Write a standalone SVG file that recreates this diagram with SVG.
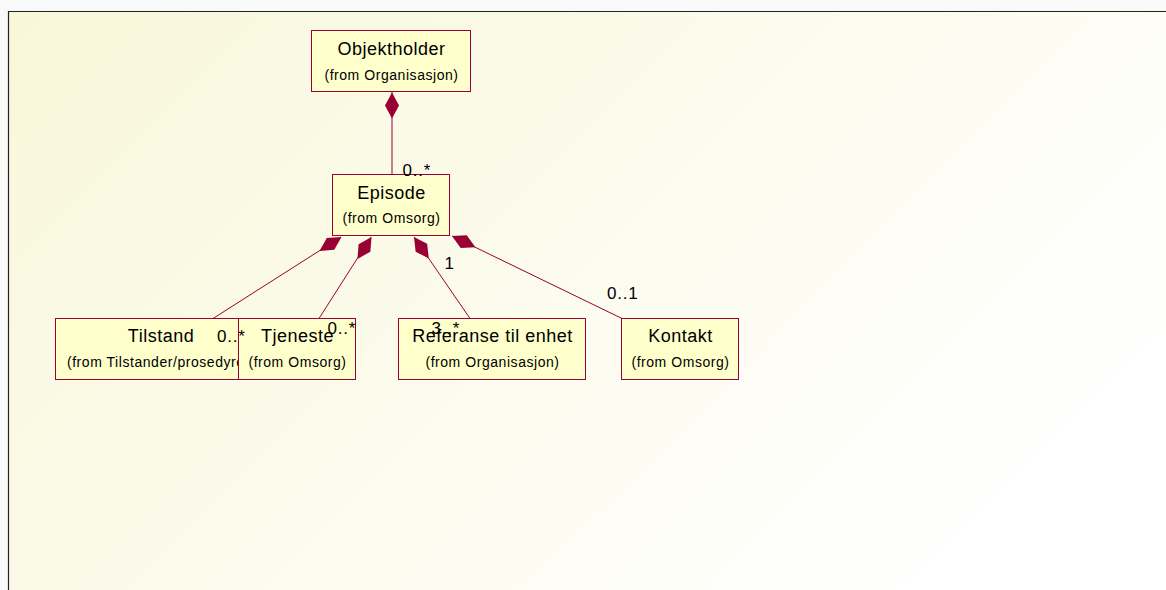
<svg xmlns="http://www.w3.org/2000/svg" xmlns:xlink="http://www.w3.org/1999/xlink" width="1166" height="590" viewBox="0 0 1166 590">
  <style>
    .box { fill: #ffffcc; stroke: #990033; stroke-width: 1; }
    .name { font-family: "Liberation Sans", Arial, sans-serif; font-size: 18px; letter-spacing: 0.5px; fill: #000; text-anchor: middle; }
    .from { font-family: "Liberation Sans", Arial, sans-serif; font-size: 14px; letter-spacing: 0.55px; fill: #000; text-anchor: middle; }
    .link { stroke: #990033; stroke-width: 1; fill: none; }
    .mult { font-family: "Liberation Sans", Arial, sans-serif; font-size: 17px; letter-spacing: 0.8px; fill: #000; }
  </style>
  <defs>
    <linearGradient id="bg" gradientUnits="userSpaceOnUse" x1="0" y1="0" x2="760" y2="760">
      <stop offset="0" stop-color="#f8f7d9"/>
      <stop offset="1" stop-color="#ffffff"/>
    </linearGradient>
    <!-- composition diamond, tip at origin, pointing along +x -->
    <path id="dia" d="M0,0 L13,-7 L26,0 L13,7 Z" fill="#990033"/>
  </defs>

  <!-- page and frame -->
  <rect x="0" y="0" width="1166" height="590" fill="#f9f9f9"/>
  <rect x="8.5" y="11.5" width="1158" height="579" fill="url(#bg)"/>
  <path d="M8.5,590 L8.5,11.5 L1166,11.5" stroke="#222" stroke-width="1.2" fill="none"/>

  <!-- connectors -->
  <g id="connectors">
    <line class="link" x1="392" y1="92" x2="392" y2="174.5"/>
    <line class="link" x1="341" y1="237" x2="213" y2="318.5"/>
    <line class="link" x1="371" y1="237" x2="319" y2="318.5"/>
    <line class="link" x1="414" y1="237" x2="470" y2="318.5"/>
    <line class="link" x1="452" y1="236" x2="622" y2="318.5"/>
    <use xlink:href="#dia" transform="translate(392,92.5) rotate(90)"/>
    <use xlink:href="#dia" transform="translate(341.5,237) rotate(147.7)"/>
    <use xlink:href="#dia" transform="translate(371.5,237) rotate(122.7)"/>
    <use xlink:href="#dia" transform="translate(414,237) rotate(55.3)"/>
    <use xlink:href="#dia" transform="translate(452,236) rotate(25.75)"/>
  </g>

  <!-- classes -->
  <g id="objektholder">
    <rect class="box" x="311.5" y="30.5" width="159" height="61"/>
    <text class="name" x="391.5" y="55">Objektholder</text>
    <text class="from" x="391.5" y="80">(from Organisasjon)</text>
  </g>
  <g id="episode">
    <rect class="box" x="332.5" y="174.5" width="117" height="61"/>
    <text class="name" x="391.5" y="198.5">Episode</text>
    <text class="from" x="391.5" y="222.5">(from Omsorg)</text>
  </g>
  <g id="tilstand">
    <rect class="box" x="55.5" y="318.5" width="210" height="61"/>
    <text class="name" x="161" y="342">Tilstand</text>
    <text class="from" x="161" y="367">(from Tilstander/prosedyrer)</text>
  </g>
  <g id="tjeneste">
    <rect class="box" x="238.5" y="318.5" width="117" height="61"/>
    <text class="name" x="297.5" y="342">Tjeneste</text>
    <text class="from" x="297.5" y="367">(from Omsorg)</text>
  </g>
  <g id="referanse">
    <rect class="box" x="398.5" y="318.5" width="187" height="61"/>
    <text class="name" x="492.5" y="342">Referanse til enhet</text>
    <text class="from" x="492.5" y="367">(from Organisasjon)</text>
  </g>
  <g id="kontakt">
    <rect class="box" x="621.5" y="318.5" width="117" height="61"/>
    <text class="name" x="680.5" y="342">Kontakt</text>
    <text class="from" x="680.5" y="367">(from Omsorg)</text>
  </g>

  <!-- multiplicities -->
  <g id="multiplicities">
    <text class="mult" x="402.5" y="176">0..*</text>
    <text class="mult" x="217" y="341.5">0..*</text>
    <text class="mult" x="327.5" y="333.5">0..*</text>
    <text class="mult" x="444.5" y="268.5">1</text>
    <text class="mult" x="431.5" y="333.5">3..*</text>
    <text class="mult" x="607" y="299">0..1</text>
  </g>
</svg>
